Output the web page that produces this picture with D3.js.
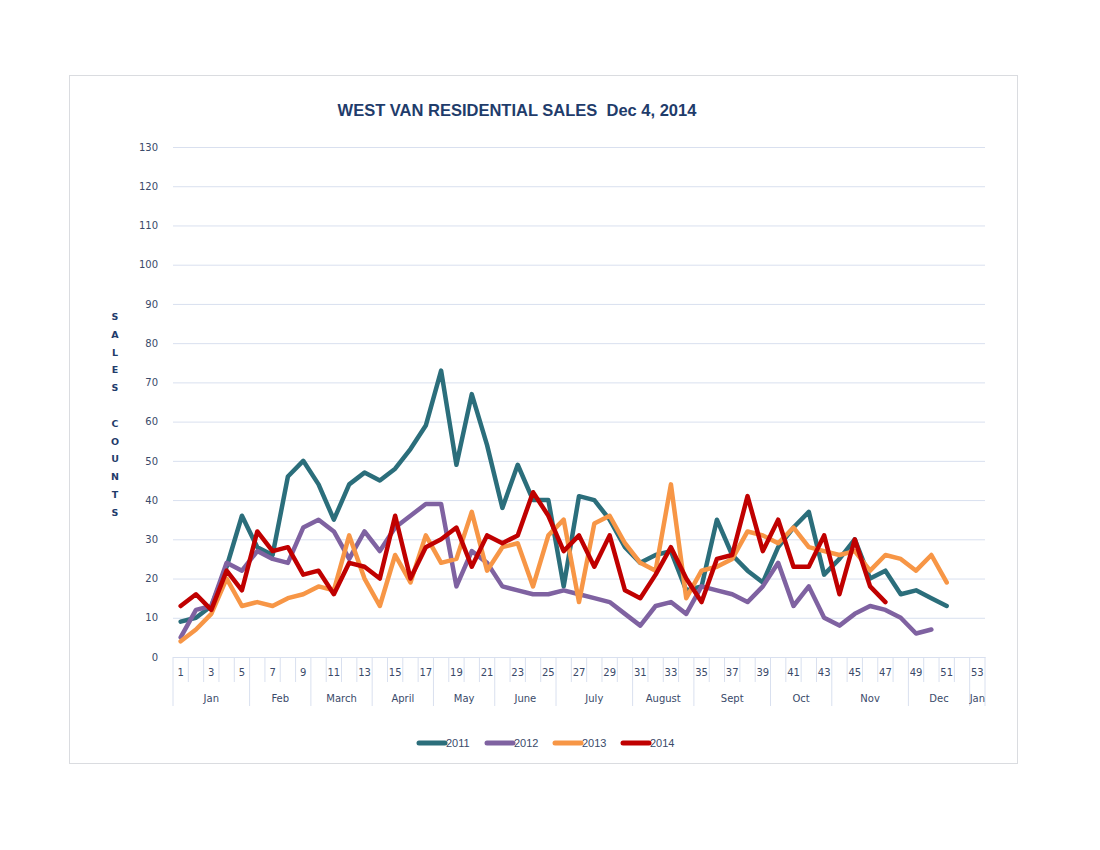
<!DOCTYPE html>
<html>
<head>
<meta charset="utf-8">
<script src="https://cdn.jsdelivr.net/npm/d3@7"></script>
<style>
  body { margin: 0; background: #fff; }
  svg { display: block; }
</style>
</head>
<body>
<svg id="chart"></svg>
<script>
// weekly residential sales counts
const weeks = d3.range(1, 54);
const years = ["2011", "2012", "2013", "2014"];
const sales2011 = [9, 10, 13, 23, 36, 28, 26, 46, 50, 44, 35, 44, 47, 45, 48, 53, 59, 73, 49, 67,
  54, 38, 49, 40, 40, 18, 41, 40, 35, 28, 24, 26, 27, 17, 18, 35, 26, 22, 19, 28,
  33, 37, 21, 25, 30, 20, 22, 16, 17, 15, 13];
const sales2012 = [5, 12, 13, 24, 22, 27, 25, 24, 33, 35, 32, 25, 32, 27, 33, 36, 39, 39, 18, 27,
  24, 18, 17, 16, 16, 17, 16, 15, 14, 11, 8, 13, 14, 11, 18, 17, 16, 14, 18, 24,
  13, 18, 10, 8, 11, 13, 12, 10, 6, 7];
const sales2013 = [4, 7, 11, 20, 13, 14, 13, 15, 16, 18, 17, 31, 20, 13, 26, 19, 31, 24, 25, 37,
  22, 28, 29, 18, 31, 35, 14, 34, 36, 29, 24, 22, 44, 15, 22, 23, 25, 32, 31, 29,
  33, 28, 27, 26, 27, 22, 26, 25, 22, 26, 19];
const sales2014 = [13, 16, 12, 22, 17, 32, 27, 28, 21, 22, 16, 24, 23, 20, 36, 20, 28, 30, 33, 23,
  31, 29, 31, 42, 36, 27, 31, 23, 31, 17, 15, 21, 28, 20, 14, 25, 26, 41, 27, 35,
  23, 23, 31, 16, 30, 18, 14];
const months = ["Jan", "Feb", "March", "April", "May", "June", "July", "August", "Sept", "Oct", "Nov", "Dec", "Jan"];
const monthWeeks = [5, 4, 4, 4, 4, 4, 5, 4, 5, 4, 5, 4, 1];
const yTicks = d3.range(0, 131, 10);
const colors = ["#2B6E7B", "#7F62A1", "#F79646", "#C00000"];

const width = 1100, height = 850;
const margin = {top: 147, right: 115, bottom: 193, left: 173};
const innerW = width - margin.left - margin.right;
const innerH = height - margin.top - margin.bottom;
const labelColor = "#3A4A6A";
const gridColor = "#D9E0EF";

const svg = d3.select("#chart").attr("width", width).attr("height", height);

// outer chart frame
svg.append("rect")
  .attr("x", 69.5).attr("y", 75.5)
  .attr("width", 948).attr("height", 688)
  .attr("fill", "none").attr("stroke", "#DADCE0");

svg.append("text")
  .attr("x", 517).attr("y", 116)
  .attr("text-anchor", "middle")
  .attr("font-family", "Liberation Sans, Arial, sans-serif")
  .attr("font-size", 16.5).attr("font-weight", "bold")
  .attr("fill", "#1F3C6B")
  .style("white-space", "pre")
  .text("WEST VAN RESIDENTIAL SALES  Dec 4, 2014");

const g = svg.append("g").attr("transform", `translate(${margin.left},${margin.top})`);

const x = d3.scaleBand().domain(weeks).range([0, innerW]);
const y = d3.scaleLinear().domain([0, 130]).range([innerH, 0]);

// y axis + gridlines
const yAxis = g.append("g")
  .call(d3.axisLeft(y).tickValues(yTicks).tickSize(-innerW).tickPadding(15));
yAxis.select(".domain").remove();
yAxis.selectAll(".tick line").attr("stroke", gridColor);
yAxis.selectAll(".tick text")
  .attr("font-family", "DejaVu Sans, sans-serif").attr("font-size", 10)
  .attr("fill", labelColor);

// vertical axis title, one letter per line
const yTitle = "SALES COUNTS".split("");
svg.append("g").selectAll("text").data(yTitle).join("text")
  .attr("x", 115).attr("y", (d, i) => 320 + i * 17.8)
  .attr("text-anchor", "middle")
  .attr("font-family", "DejaVu Sans, sans-serif")
  .attr("font-size", 9.5).attr("font-weight", "bold")
  .attr("fill", "#1F3C6B")
  .text(d => d);

// x axis: week numbers
const xAxis = g.append("g").attr("transform", `translate(0,${innerH})`)
  .call(d3.axisBottom(x).tickSize(0).tickPadding(12)
    .tickFormat(d => d % 2 === 1 ? d : ""));
xAxis.select(".domain").attr("stroke", gridColor);
xAxis.selectAll(".tick text")
  .attr("font-family", "DejaVu Sans, sans-serif").attr("font-size", 10)
  .attr("fill", labelColor);

// category separators
const bounds = weeks.map(w => x(w)).concat([innerW]);
g.append("g").selectAll("line").data(bounds).join("line")
  .attr("x1", d => d).attr("x2", d => d)
  .attr("y1", innerH).attr("y2", innerH + 25)
  .attr("stroke", gridColor);

// month groups
let start = 1;
const monthSpans = months.map((m, i) => {
  const s = {name: m, first: start, last: start + monthWeeks[i] - 1};
  start += monthWeeks[i];
  return s;
});
const monthX0 = d => x(d.first);
const monthX1 = d => x(d.last) + x.bandwidth();
g.append("g").selectAll("line").data(monthSpans).join("line")
  .attr("x1", monthX0).attr("x2", monthX0)
  .attr("y1", innerH + 25).attr("y2", innerH + 49)
  .attr("stroke", gridColor);
g.append("line")
  .attr("x1", innerW).attr("x2", innerW)
  .attr("y1", innerH + 25).attr("y2", innerH + 49)
  .attr("stroke", gridColor);
g.append("g").selectAll("text").data(monthSpans).join("text")
  .attr("x", d => (monthX0(d) + monthX1(d)) / 2)
  .attr("y", innerH + 45)
  .attr("text-anchor", "middle")
  .attr("font-family", "DejaVu Sans, sans-serif").attr("font-size", 10)
  .attr("fill", labelColor)
  .text(d => d.name);

// series
const series = [sales2011, sales2012, sales2013, sales2014];
const line = d3.line()
  .x((d, i) => x(weeks[i]) + x.bandwidth() / 2)
  .y(d => y(d));
g.append("g").selectAll("path").data(series).join("path")
  .attr("d", d => line(d))
  .attr("fill", "none")
  .attr("stroke", (d, i) => colors[i])
  .attr("stroke-width", 4.5)
  .attr("stroke-linejoin", "round")
  .attr("stroke-linecap", "round");

// legend
const legend = svg.append("g").attr("transform", "translate(417,743)");
const item = legend.selectAll("g").data(years).join("g")
  .attr("transform", (d, i) => `translate(${[0, 68, 136, 204][i]},0)`);
item.append("line")
  .attr("x1", 2).attr("x2", 28)
  .attr("stroke", (d, i) => colors[i])
  .attr("stroke-width", 5)
  .attr("stroke-linecap", "round");
item.append("text")
  .attr("x", 29).attr("y", 4)
  .attr("font-family", "Liberation Sans, Arial, sans-serif").attr("font-size", 11)
  .attr("fill", labelColor)
  .text(d => d);
</script>
</body>
</html>
